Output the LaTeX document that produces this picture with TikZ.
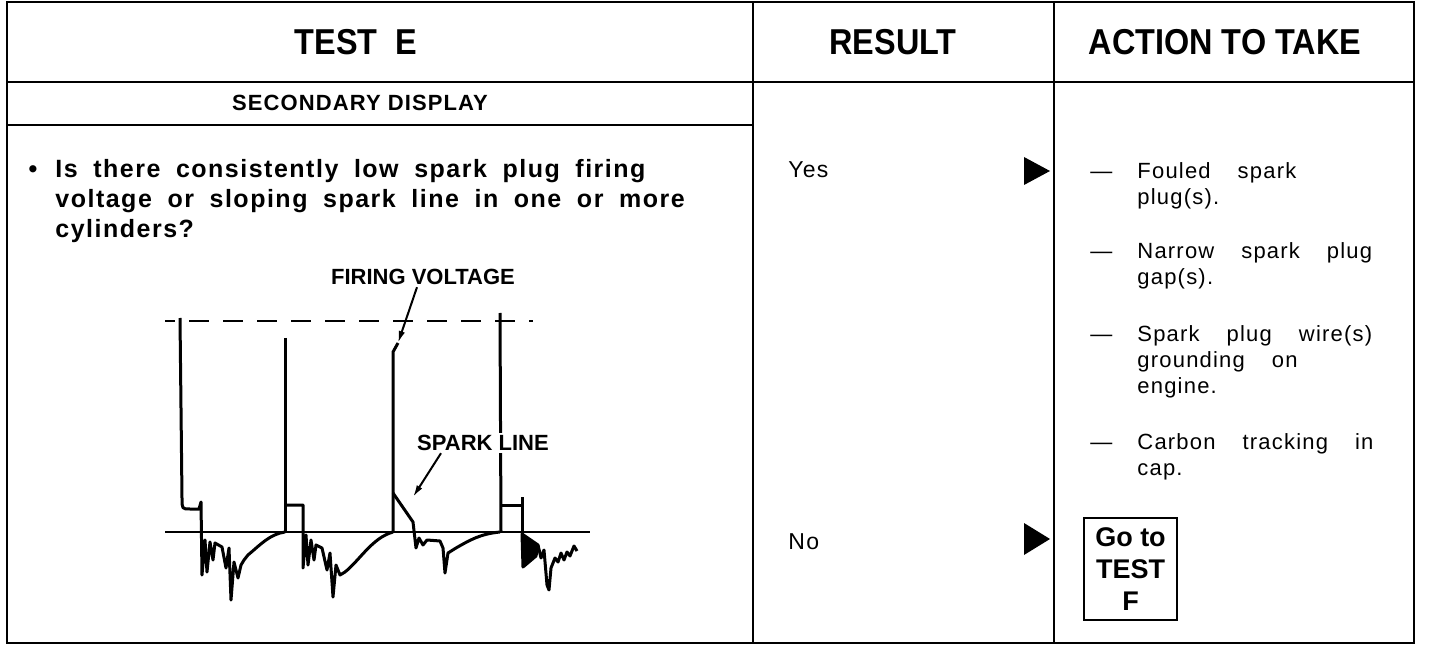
\documentclass[tikz,border=0pt]{standalone}
\usepackage{fontspec}
\setmainfont{Liberation Sans}
\newfontfamily\headfont[FakeStretch=0.9]{Liberation Sans}
\newfontfamily\spacedfont[LetterSpace=6]{Liberation Sans}
\newfontfamily\actionfont[LetterSpace=5.5]{Liberation Sans}
\newfontfamily\labelfont[LetterSpace=5]{Liberation Sans}
\newcommand\widespaces[1]{\spaceskip #1\relax}
\usetikzlibrary{arrows.meta}
\begin{document}
\begin{tikzpicture}[x=0.5pt, y=-0.5pt,
                    frame/.style={line width=1.4pt},
                    trace/.style={line width=1.5pt, line join=round},
                    axis/.style={line width=1.1pt},
                    pointer/.style={line width=1pt, -{Latex[length=6pt,width=3.2pt]}},
                    head/.style={font=\headfont\bfseries\fontsize{18}{20}\selectfont},
                    tag/.style={font=\bfseries\fontsize{11}{13}\selectfont, inner sep=1pt, fill=white},
                    result/.style={anchor=base west, inner sep=0pt, font=\actionfont\fontsize{11.5}{13}\selectfont},
                    item/.style={anchor=north west, inner sep=0pt, align=left,
                                 font={\actionfont\fontsize{11}{13}\selectfont\widespaces{13.5pt}}}]
  \useasboundingbox[fill=white] (0,0) rectangle (1440,646);
  \draw[frame] (7,2) rectangle (1414,643);
  \draw[frame] (753,2) -- (753,643) (1054,2) -- (1054,643)
               (7,82) -- (1414,82) (7,125) -- (753,125);
  \node[head] (test) at (356,42) {TEST\ \ E};
  \node[head] (res) at (893,42) {RESULT};
  \node[head] (act) at (1225,42) {ACTION TO TAKE};
  \node[font=\labelfont\bfseries\fontsize{11}{13}\selectfont] (disp) at (360,103) {SECONDARY DISPLAY};
  \node[anchor=north west, inner sep=0pt, align=left,
        font={\spacedfont\bfseries\fontsize{12.5}{15}\selectfont\widespaces{7.8pt}}] (quest) at (55,159)
        {\llap{\textbullet\hspace{9pt}}Is there consistently low spark plug firing\\
         voltage or sloping spark line in one or more\\
         cylinders?};
  \node[result] (yes) at (788,178) {Yes};
  \node[result] (no) at (788,549) {No};
  \fill (1024,157) -- (1050,171) -- (1024,185) -- cycle;
  \fill (1024,523) -- (1050,539) -- (1024,555) -- cycle;
  \node[item] (fouled) at (1137,162) {\llap{\textemdash\hspace{12.5pt}}Fouled spark\\plug(s).};
  \node[item] (narrow) at (1137,242) {\llap{\textemdash\hspace{12.5pt}}Narrow spark plug\\gap(s).};
  \node[item] (wire) at (1137,325) {\llap{\textemdash\hspace{12.5pt}}Spark plug wire(s)\\grounding on\\engine.};
  \node[item] (carbon) at (1137,433) {\llap{\textemdash\hspace{12.5pt}}Carbon tracking in\\cap.};
  \node[draw, line width=1pt, minimum width=46.5pt, minimum height=51pt, align=center,
        inner sep=0pt, font=\bfseries\fontsize{13.5}{16}\selectfont] (gotof) at (1130.5,569) {Go to\\TEST\\F};
  \draw[frame, dash pattern=on 10pt off 7pt, dash phase=5pt] (165,321) -- (533,321);
  \draw[axis] (165,532) -- (590,532);
  \draw[trace] (180,318) -- (182,498) .. controls (182,509) .. (190,509) -- (199,509) -- (201,502)
       -- (202,575) -- (205,540) -- (207,572) -- (210,542) -- (213,560) -- (215,543) -- (222,547)
       -- (226,568) -- (229,548) -- (231,600) -- (234,562) -- (238,578) -- (241,565) -- (244,560)
       -- (248,555) .. controls (260,545) and (270,534) .. (285,532);
  \draw[trace] (285,338) -- (285,532);
  \draw[trace] (285,505) -- (303,505) -- (303,568) -- (306,535) -- (308,565) -- (311,540)
       -- (314,560) -- (316,545) -- (322,548) -- (327,570) -- (330,553) -- (333,597) -- (336,565)
       -- (340,575) -- (345,572) .. controls (360,560) and (372,538) .. (393,532);
  \draw[trace] (398,343) -- (393,352) -- (393,532);
  \draw[trace] (393,493) -- (413,522) -- (416,548) -- (419,538) -- (423,545) -- (427,540)
       -- (440,541) -- (443,548) -- (445,573) -- (448,553) -- (456,548)
       .. controls (470,540) and (480,534) .. (500,532);
  \draw[trace] (500,313) -- (501,532);
  \draw[trace] (501,505) -- (522,505);
  \draw[trace] (522,497) -- (522,534);
  \filldraw[trace] (522,534) -- (538,545) -- (536,556) -- (523,567) -- cycle;
  \draw[trace] (538,545) -- (541,558) -- (544,550) -- (547,585) -- (549,590) -- (551,568)
       -- (555,558) -- (558,562) -- (561,553) -- (564,560) -- (567,552) -- (570,556)
       -- (574,546) -- (577,551);
  \node[tag] (fv) at (423,277) {FIRING VOLTAGE};
  \node[tag] (sl) at (483,443) {SPARK LINE};
  \coordinate (fvtip) at (398,343);
  \coordinate (sltip) at (413,497);
  \draw[pointer] ([xshift=-3pt]fv.south) -- (fvtip);
  \draw[pointer] ([xshift=-21pt]sl.south) -- (sltip);
\end{tikzpicture}
\end{document}
